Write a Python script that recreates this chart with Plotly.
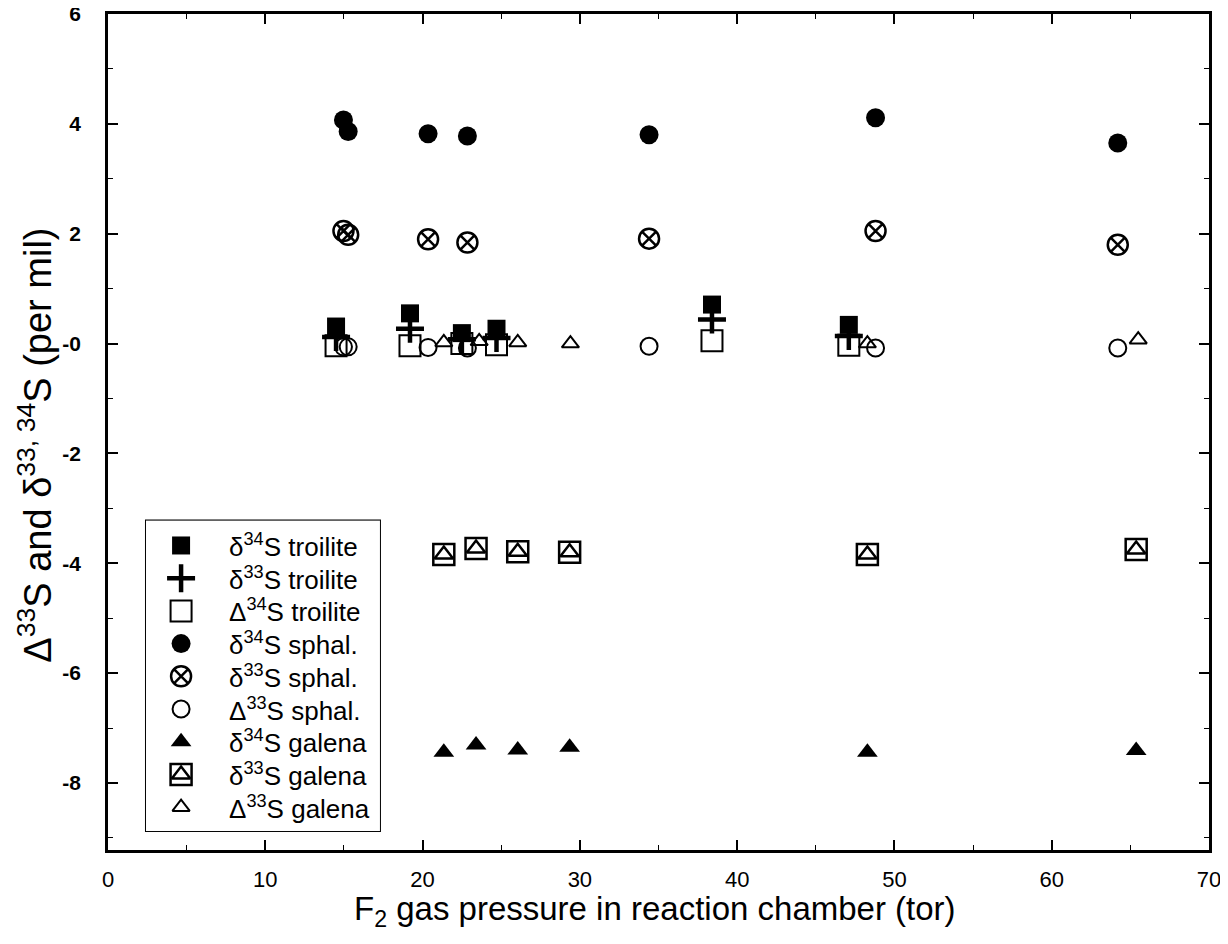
import plotly.graph_objects as go

# ---------------- data ----------------
troilite_p = [14.5, 19.2, 22.5, 24.7, 38.4, 47.1]
troilite_d34 = [0.31, 0.55, 0.19, 0.27, 0.71, 0.34]
troilite_d33 = [0.12, 0.27, 0.08, 0.10, 0.44, 0.14]
troilite_D34 = [-0.04, -0.04, 0.00, -0.02, 0.05, -0.03]

sphal_p = [14.97, 15.27, 20.35, 22.85, 34.4, 48.8, 64.2]
sphal_d34 = [4.07, 3.86, 3.82, 3.78, 3.80, 4.11, 3.65]
sphal_d33 = [2.05, 1.98, 1.90, 1.84, 1.91, 2.05, 1.80]
sphal_D33 = [-0.06, -0.06, -0.07, -0.08, -0.05, -0.08, -0.08]

galena_p = [21.35, 23.4, 26.05, 29.35, 48.28, 65.37]
galena_d34 = [-7.44, -7.31, -7.40, -7.35, -7.44, -7.41]
galena_d33 = [-3.84, -3.73, -3.79, -3.80, -3.84, -3.75]
galena_D33_p = [21.35, 23.6, 26.05, 29.4, 48.28, 65.5]
galena_D33 = [0.02, 0.04, 0.02, 0.00, 0.00, 0.07]

x_ticks = [0, 10, 20, 30, 40, 50, 60, 70]
y_ticks = [6, 4, 2, 0, -2, -4, -6, -8]
y_ticktext = ["<b>6</b>", "<b>4</b>", "<b>2</b>", "<b>-0</b>", "<b>-2</b>",
              "<b>-4</b>", "<b>-6</b>", "<b>-8</b>"]

x_title = "F<sub>2</sub> gas pressure in reaction chamber (tor)"
y_title = "Δ<sup>33</sup>S and δ<sup>33, 34</sup>S (per mil)"

legend_labels = [
    "δ<sup>34</sup>S troilite",
    "δ<sup>33</sup>S troilite",
    "Δ<sup>34</sup>S troilite",
    "δ<sup>34</sup>S sphal.",
    "δ<sup>33</sup>S sphal.",
    "Δ<sup>33</sup>S sphal.",
    "δ<sup>34</sup>S galena",
    "δ<sup>33</sup>S galena",
    "Δ<sup>33</sup>S galena",
]

FONT = "Liberation Sans, Arial, Helvetica, sans-serif"
BLACK = "black"

# marker styles (one per legend row); galena δ33S uses two overlaid symbols
styles = [
    [dict(symbol="square", size=18, color=BLACK, line=dict(width=0))],
    [dict(symbol="cross-thin-open", size=20, color=BLACK, line=dict(width=4.5, color=BLACK))],
    [dict(symbol="square-open", size=21, color=BLACK, line=dict(width=2, color=BLACK))],
    [dict(symbol="circle", size=19, color=BLACK, line=dict(width=0))],
    [dict(symbol="circle-x-open", size=20, color=BLACK, line=dict(width=2.5, color=BLACK))],
    [dict(symbol="circle-open", size=17, color=BLACK, line=dict(width=2, color=BLACK))],
    [dict(symbol="triangle-up", size=18, color=BLACK, line=dict(width=0))],
    [dict(symbol="square-open", size=21, color=BLACK, line=dict(width=2.5, color=BLACK)),
     dict(symbol="triangle-up-open", size=16, color=BLACK, line=dict(width=2.5, color=BLACK))],
    [dict(symbol="triangle-up-open", size=15, color=BLACK, line=dict(width=2, color=BLACK))],
]

series = [
    (troilite_p, troilite_d34),
    (troilite_p, troilite_d33),
    (troilite_p, troilite_D34),
    (sphal_p, sphal_d34),
    (sphal_p, sphal_d33),
    (sphal_p, sphal_D33),
    (galena_p, galena_d34),
    (galena_p, galena_d33),
    (galena_D33_p, galena_D33),
]

fig = go.Figure()

for (xs, ys), mk_list, name in zip(series, styles, legend_labels):
    for mk in mk_list:
        fig.add_trace(go.Scatter(x=xs, y=ys, mode="markers", marker=mk,
                                 name=name, showlegend=False,
                                 xaxis="x", yaxis="y"))

# ---------------- manual legend (on a hidden helper axis) ----------------
n = len(legend_labels)
rows = list(range(n))
for i, mk_list in enumerate(styles):
    for mk in mk_list:
        fig.add_trace(go.Scatter(x=[0.15], y=[rows[i]], mode="markers", marker=mk,
                                 showlegend=False, hoverinfo="skip",
                                 xaxis="x2", yaxis="y2", cliponaxis=False))

annotations = []
for i, lab in enumerate(legend_labels):
    annotations.append(dict(x=0.345, y=rows[i], xref="x2", yref="y2", text=lab,
                            showarrow=False, xanchor="left", yanchor="middle",
                            font=dict(family=FONT, size=26, color=BLACK)))

# axis titles as annotations for precise placement
annotations.append(dict(x=0.497, y=-0.073, xref="paper", yref="paper", text=x_title,
                        showarrow=False, xanchor="center", yanchor="middle",
                        font=dict(family=FONT, size=33, color=BLACK)))
annotations.append(dict(x=-0.066, y=0.484, xref="paper", yref="paper", text=y_title,
                        showarrow=False, xanchor="center", yanchor="middle",
                        textangle=-90,
                        font=dict(family=FONT, size=38, color=BLACK)))

# legend box geometry (paper coordinates)
lx0, lx1 = 0.0345, 0.247
ly0, ly1 = 0.0227, 0.394

fig.update_layout(
    width=1220, height=936,
    margin=dict(l=100, r=19, t=6, b=94, autoexpand=False),
    paper_bgcolor="white", plot_bgcolor="white",
    font=dict(family=FONT, color=BLACK),
    showlegend=False,
    xaxis=dict(
        range=[0, 70], tickvals=x_ticks, ticks="inside", ticklen=10, tickwidth=1.5,
        tickcolor=BLACK, showline=True, linewidth=2.5, linecolor=BLACK, mirror="ticks",
        showgrid=False, zeroline=False, automargin=False, ticklabeloverflow="allow",
        minor=dict(ticks="inside", dtick=5, ticklen=5, tickwidth=1, tickcolor=BLACK),
        tickfont=dict(family=FONT, size=22, color=BLACK), ticklabelstandoff=8,
    ),
    yaxis=dict(
        range=[-9.22, 6], tickvals=y_ticks, ticktext=y_ticktext, ticks="inside",
        ticklen=10, tickwidth=1.5, tickcolor=BLACK, showline=True, linewidth=2.5,
        linecolor=BLACK, mirror="ticks", showgrid=False, zeroline=False,
        automargin=False, ticklabeloverflow="allow",
        minor=dict(ticks="inside", dtick=1, ticklen=5, tickwidth=1, tickcolor=BLACK),
        tickfont=dict(family=FONT, size=21, color=BLACK), ticklabelstandoff=20,
    ),
    xaxis2=dict(domain=[lx0, lx1], range=[0, 1], anchor="y2", visible=False,
                fixedrange=True),
    yaxis2=dict(domain=[ly0, ly1], range=[n - 1 + 0.73, -0.76], anchor="x2",
                visible=False, fixedrange=True),
    annotations=annotations,
    shapes=[dict(type="rect", xref="paper", yref="paper", x0=lx0, x1=lx1,
                 y0=ly0, y1=ly1, line=dict(color=BLACK, width=2),
                 fillcolor="rgba(0,0,0,0)", layer="below")],
)

fig.write_html("out.html")
